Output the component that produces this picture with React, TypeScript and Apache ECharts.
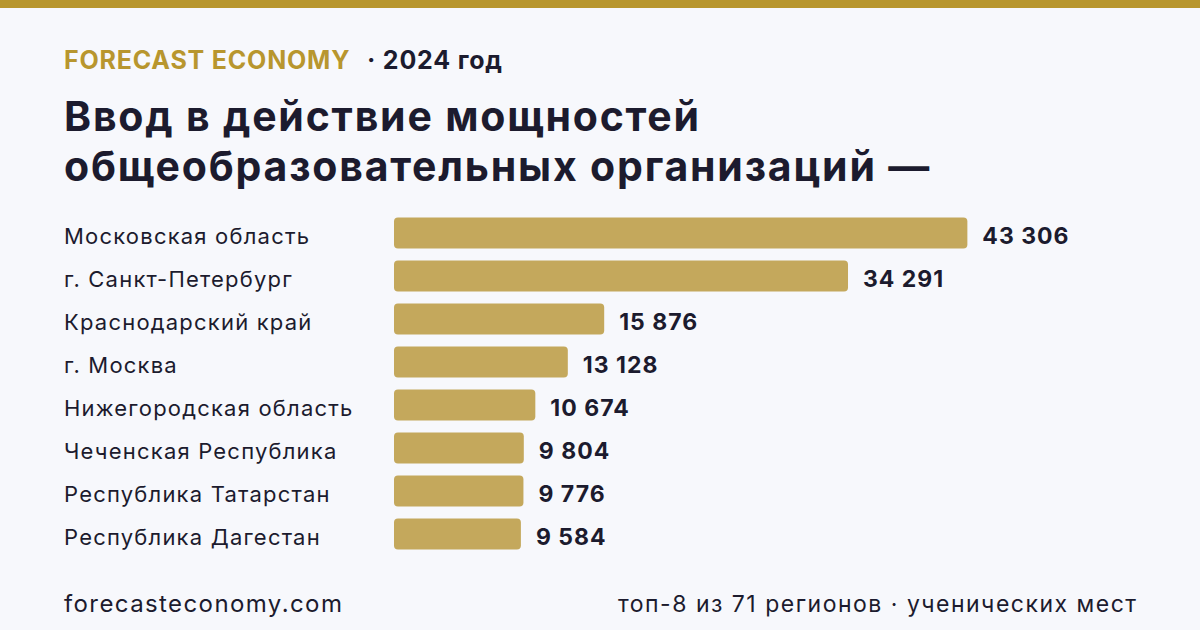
import React, { useEffect, useRef } from "react";
import * as echarts from "echarts";

const regions = [
  "Московская область",
  "г. Санкт-Петербург",
  "Краснодарский край",
  "г. Москва",
  "Нижегородская область",
  "Чеченская Республика",
  "Республика Татарстан",
  "Республика Дагестан",
];
const places = [43306, 34291, 15876, 13128, 10674, 9804, 9776, 9584];

const GOLD = "#b8962e";
const BAR = "#c4a85c";
const INK = "#1c1b2e";
const BG = "#f7f8fc";
const FONT = "Inter, 'Noto Sans', sans-serif";

// tracking (px) per "weight-size": the typography uses slightly open letter spacing
const TRACKING: Record<string, number> = {
  "700-41px": 1.8,
  "700-25px": 0.8,
  "700-23px": 1.0,
  "400-24px": 1.4,
  "400-23px": 1.5,
  "400-22px": 1.2,
};

const fmt = (v: number) => String(v).replace(/\B(?=(\d{3})+(?!\d))/g, " ");

export default function App() {
  const ref = useRef<HTMLDivElement>(null);
  useEffect(() => {
    if (!ref.current) return;
    const host = ref.current;
    const chart = echarts.init(host, undefined, { renderer: "svg" });

    const applyTracking = () => {
      host.querySelectorAll("text").forEach((t) => {
        const cs = window.getComputedStyle(t);
        const w = parseInt(cs.fontWeight, 10) >= 600 ? "700" : "400";
        const s = TRACKING[`${w}-${cs.fontSize}`];
        if (s) (t as SVGTextElement).style.letterSpacing = `${s}px`;
      });
    };
    chart.on("finished", applyTracking);

    chart.setOption({
      animation: false,
      backgroundColor: BG,
      textStyle: { fontFamily: FONT },
      grid: { left: 394, width: 662, top: 211.5, height: 344, containLabel: false },
      xAxis: {
        type: "value",
        min: 0,
        max: 50000,
        show: false,
      },
      yAxis: {
        type: "category",
        data: regions,
        inverse: true,
        axisLine: { show: false },
        axisTick: { show: false },
        splitLine: { show: false },
        axisLabel: {
          align: "left",
          margin: 330,
          formatter: (v: string) => `{t|${v}}`,
          rich: {
            t: { fontSize: 22, color: INK, fontFamily: FONT, padding: [6, 0, 0, 0] },
          },
        },
      },
      series: [
        {
          type: "bar",
          data: places,
          barWidth: 31,
          itemStyle: { color: BAR, borderRadius: 4 },
          label: {
            show: true,
            position: "right",
            distance: 15,
            formatter: (p: any) => `{v|${fmt(p.value)}}`,
            rich: {
              v: {
                fontSize: 23,
                fontWeight: "bold",
                color: INK,
                fontFamily: FONT,
                padding: [6, 0, 0, 0],
              },
            },
          },
        },
      ],
      graphic: [
        { type: "rect", left: 0, top: 0, shape: { width: 1200, height: 8 }, style: { fill: GOLD } },
        {
          type: "text",
          left: 64,
          top: 47,
          style: { text: "FORECAST ECONOMY", fill: GOLD, font: `bold 25px ${FONT}` },
        },
        {
          type: "text",
          left: 367,
          top: 47,
          style: { text: "· 2024 год", fill: INK, font: `bold 25px ${FONT}` },
        },
        {
          type: "text",
          left: 64,
          top: 91,
          style: {
            text: "Ввод в действие мощностей\nобщеобразовательных организаций —",
            fill: INK,
            font: `bold 41px ${FONT}`,
            lineHeight: 50,
          },
        },
        {
          type: "text",
          left: 64,
          top: 591,
          style: { text: "forecasteconomy.com", fill: INK, font: `24px ${FONT}` },
        },
        {
          type: "text",
          x: 1137.5,
          y: 592,
          style: {
            text: "топ-8 из 71 регионов · ученических мест",
            fill: INK,
            font: `23px ${FONT}`,
            align: "right",
            verticalAlign: "top",
          },
        },
      ],
    });
    applyTracking();
    return () => chart.dispose();
  }, []);
  return <div ref={ref} style={{ width: 1200, height: 630, position: "fixed", left: 0, top: 0 }} />;
}
